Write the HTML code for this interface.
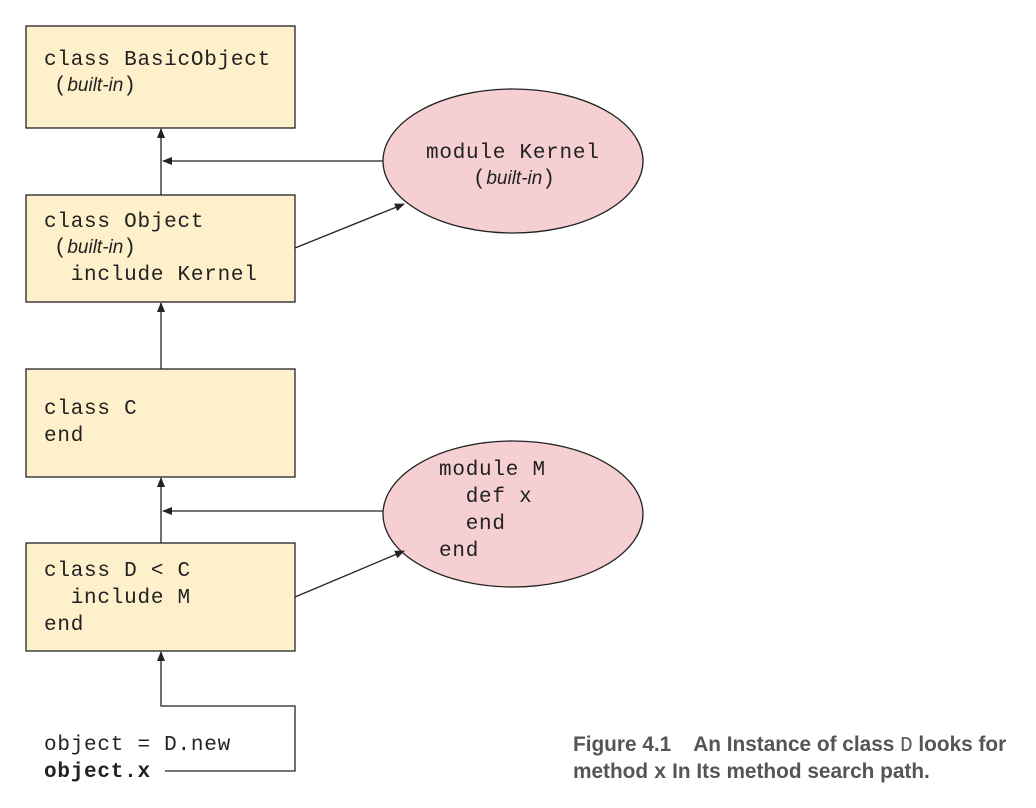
<!DOCTYPE html>
<html><head><style>
body{margin:0;background:#fff;width:1036px;height:808px;overflow:hidden}
svg{position:absolute;left:0;top:0}
.m{font-family:"Liberation Mono",monospace;font-size:21px;letter-spacing:0.75px;fill:#222}
.i{font-family:"Liberation Sans",sans-serif;font-style:italic;font-size:19px;letter-spacing:0}
.c{font-family:"Liberation Sans",sans-serif;font-weight:bold;font-size:20.8px;fill:#555}
</style></head><body>
<svg width="1036" height="808" viewBox="0 0 1036 808">
<defs><marker id="a" markerWidth="10" markerHeight="8" refX="9" refY="4" orient="auto" markerUnits="userSpaceOnUse"><path d="M0,0 L10,4 L0,8 z" fill="#222"/></marker></defs>
<g fill="#fdf0cb" stroke="#222" stroke-width="1.3">
<rect x="26" y="26" width="269" height="102"/>
<rect x="26" y="195" width="269" height="107"/>
<rect x="26" y="369" width="269" height="108"/>
<rect x="26" y="543" width="269" height="108"/>
</g>
<g fill="#f5cfd1" stroke="#222" stroke-width="1.3">
<ellipse cx="513" cy="161" rx="130" ry="72"/>
<ellipse cx="513" cy="514" rx="130" ry="73"/>
</g>
<g stroke="#222" stroke-width="1.3" fill="none" marker-end="url(#a)">
<line x1="161" y1="195" x2="161" y2="129"/>
<line x1="383" y1="161" x2="163" y2="161"/>
<line x1="295" y1="248" x2="404" y2="204"/>
<line x1="161" y1="369" x2="161" y2="303"/>
<line x1="161" y1="543" x2="161" y2="478"/>
<line x1="383" y1="511" x2="163" y2="511"/>
<line x1="295" y1="597" x2="404" y2="551"/>
<polyline points="165,771 295,771 295,706 161,706 161,652"/>
</g>
<text class="m" x="44" y="65">class BasicObject</text>
<text class="m" x="54" y="91">(<tspan class="i">built-in</tspan>)</text>
<text class="m" x="44" y="227">class Object</text>
<text class="m" x="54" y="253">(<tspan class="i">built-in</tspan>)</text>
<text class="m" x="44" y="280" xml:space="preserve">  include Kernel</text>
<text class="m" x="44" y="414">class C</text>
<text class="m" x="44" y="441">end</text>
<text class="m" x="44" y="576">class D &lt; C</text>
<text class="m" x="44" y="603" xml:space="preserve">  include M</text>
<text class="m" x="44" y="630">end</text>
<text class="m" x="426" y="158">module Kernel</text>
<text class="m" x="473" y="184">(<tspan class="i">built-in</tspan>)</text>
<text class="m" x="439" y="475">module M</text>
<text class="m" x="439" y="502" xml:space="preserve">  def x</text>
<text class="m" x="439" y="529" xml:space="preserve">  end</text>
<text class="m" x="439" y="556">end</text>
<text class="m" x="44" y="750">object = D.new</text>
<text class="m" x="44" y="777" font-weight="bold">object.x</text>
<text class="c" x="573" y="751">Figure 4.1<tspan dx="22">An Instance of class </tspan><tspan font-family="Liberation Mono" font-weight="normal">D</tspan> looks for</text>
<text class="c" x="573" y="778">method <tspan font-family="Liberation Mono">x</tspan> In Its method search path.</text>
</svg>
</body></html>
